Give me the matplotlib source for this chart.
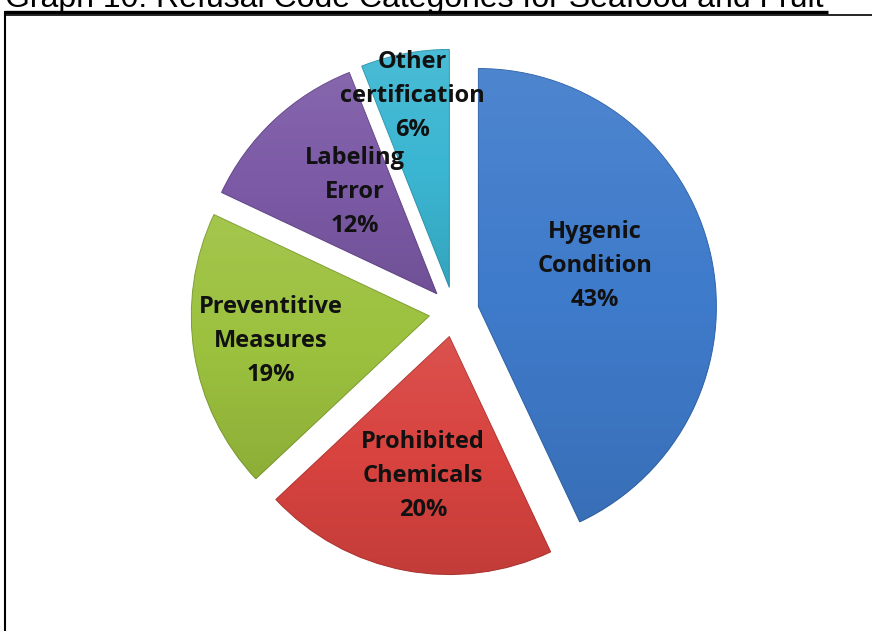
import numpy as np
import matplotlib
matplotlib.use("Agg")
import matplotlib.pyplot as plt
from matplotlib.lines import Line2D

# Refusal code categories (share of refusals, %)
categories = ["Hygenic\nCondition", "Prohibited\nChemicals", "Preventitive\nMeasures",
              "Labeling\nError", "Other\ncertification"]
shares = [43, 20, 19, 12, 6]
title = "Graph 10: Refusal Code Categories for Seafood and Fruit"

colors = ["#3f7bcb", "#d8433f", "#9cc13e", "#7c5aa6", "#3bb6d2"]
edge_colors = ["#2f62a8", "#b03531", "#7d9e30", "#634588", "#2e97b0"]

W, H = 872, 631
fig = plt.figure(figsize=(W / 100, H / 100), dpi=100)
ax = fig.add_axes([0, 0, 1, 1])

R = 238
cx, cy = 454, H - 312
explode = [0.105 * R] * len(shares)

wedges, _ = ax.pie(shares, colors=colors, startangle=90, counterclock=False,
                   explode=explode, radius=R, center=(cx, cy),
                   wedgeprops=dict(linewidth=0.7))

# soft vertical shading on each wedge
grad = np.linspace(0, 1, 256)[:, None]
top = np.clip(0.5 - grad, 0, None) * 2
bot = np.clip(grad - 0.5, 0, None) * 2
for w, ec in zip(wedges, edge_colors):
    w.set_edgecolor(ec)
    bb = w.get_path().get_extents()
    img = np.zeros((256, 2, 4))
    img[..., :3] = np.where(top[..., None] > 0, 1.0, 0.0)
    img[..., 3] = (top * 0.08 + bot * 0.10).repeat(2, axis=1)
    im = ax.imshow(img, extent=(bb.x0, bb.x1, bb.y0, bb.y1), origin="upper",
                   aspect="auto", zorder=w.get_zorder() + 0.1, interpolation="bilinear")
    im.set_clip_path(w)

# labels placed inside each wedge
label_dist = [0.52, 0.595, 0.675, 0.55, 0.82]
label_shift = [6.6, 0, 0, -4.4, 0]
total = sum(shares)
for w, cat, val, d, s in zip(wedges, categories, shares, label_dist, label_shift):
    ang = np.deg2rad((w.theta1 + w.theta2) / 2 + s)
    x0, y0 = w.center
    x = x0 + d * w.r * np.cos(ang)
    y = y0 + d * w.r * np.sin(ang)
    ax.text(x, y, f"{cat}\n{val / total * 100:.0f}%", ha="center", va="center",
            fontsize=17, fontweight="bold", family="Open Sans", color="#111111",
            linespacing=1.55, zorder=10)

ax.set_xlim(0, W)
ax.set_ylim(0, H)
ax.set_aspect("auto")
ax.axis("off")

# chart frame (top and left edges) and the underlined heading above it
fig.add_artist(Line2D([5 / W, 1], [1 - 14.5 / H] * 2, color="black", lw=1.2,
                      transform=fig.transFigure))
fig.add_artist(Line2D([5 / W] * 2, [0, 1 - 12 / H], color="black", lw=1.5,
                      transform=fig.transFigure))
fig.add_artist(Line2D([5 / W, 828 / W], [1 - 11.5 / H] * 2, color="black", lw=2.4,
                      transform=fig.transFigure, solid_capstyle="butt"))
fig.text(5 / W, 1 - 7 / H, title, ha="left", va="baseline", fontsize=23,
         family="Liberation Sans")

fig.savefig("out.png", dpi=100)
